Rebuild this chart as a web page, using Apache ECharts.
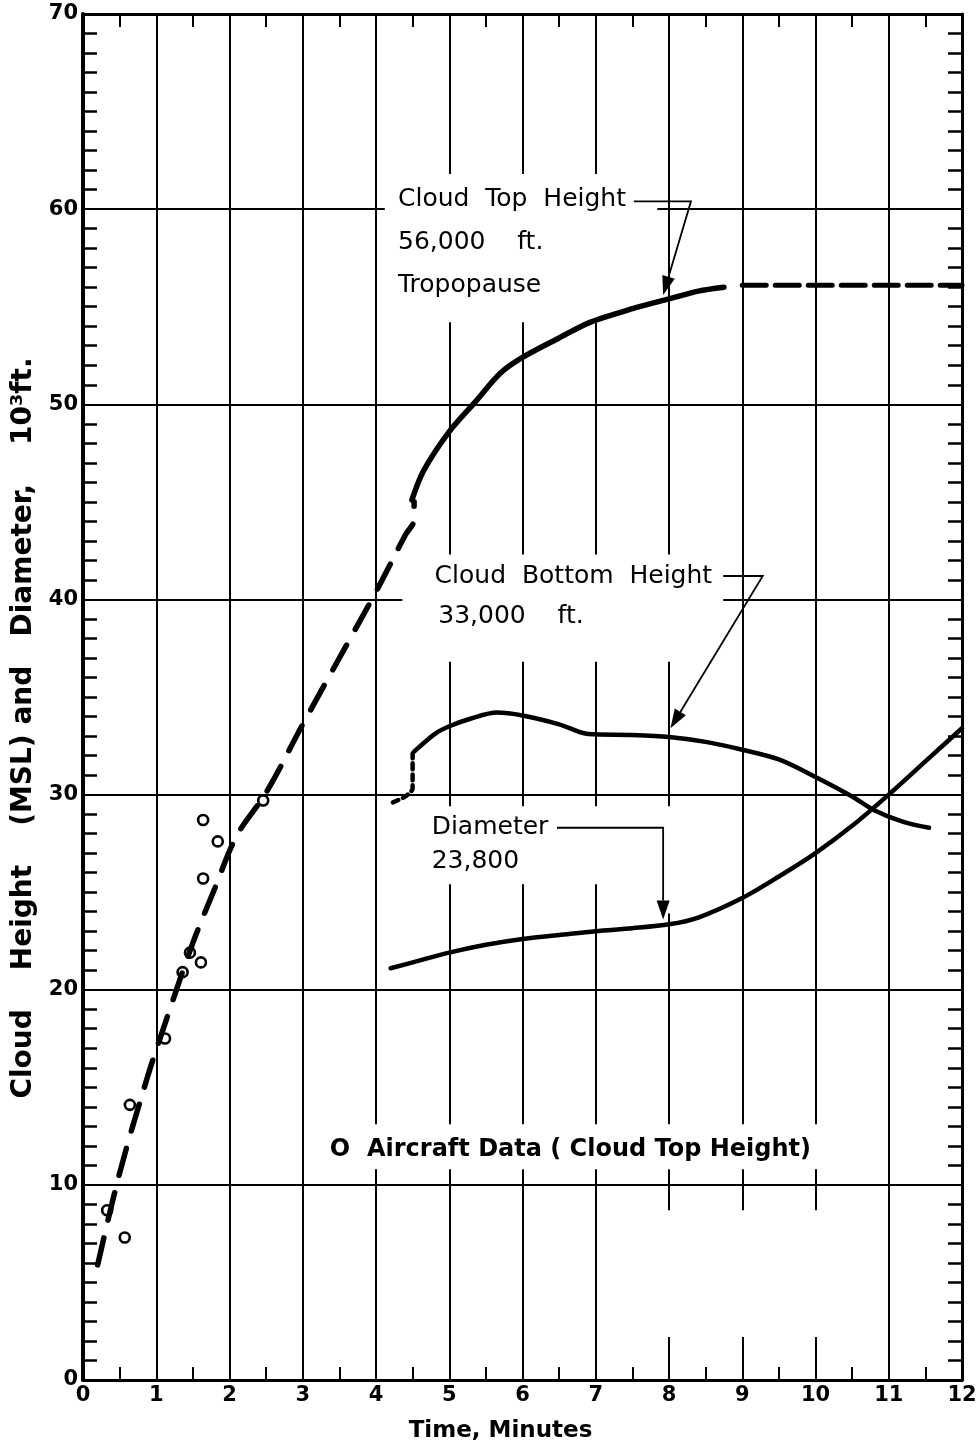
<!DOCTYPE html>
<html>
<head>
<meta charset="utf-8">
<script src="https://cdn.jsdelivr.net/npm/echarts@6/dist/echarts.min.js"></script>
<style>
html, body { margin: 0; padding: 0; background: #fff; }
#main { width: 978px; height: 1450px; }
</style>
</head>
<body>
<div id="main"></div>
<script>
// time in minutes, height in thousands of feet
var xTicks = [0, 1, 2, 3, 4, 5, 6, 7, 8, 9, 10, 11, 12];
var yTicks = [0, 10, 20, 30, 40, 50, 60, 70];

var topRiseDashed = [[0.2, 5.9], [0.5, 10.6], [0.87, 15.4], [1.15, 18.6], [1.5, 22.4], [1.8, 25.2],
    [2.1, 27.9], [2.5, 30.1], [3, 33.6], [3.5, 37.0], [4, 40.4], [4.4, 43.3], [4.52, 44.1], [4.52, 45.0]];
var topHeight = [[4.49, 45.1], [4.65, 46.6], [5, 48.6], [5.35, 50.1], [5.7, 51.6], [6, 52.4], [6.5, 53.4],
    [6.92, 54.2], [7.5, 54.9], [8, 55.4], [8.4, 55.8], [8.75, 56.0]];
var topTropopause = [[9, 56.1], [12, 56.1]];
var bottomDotted = [[4.23, 29.6], [4.4, 29.9], [4.5, 30.3], [4.5, 32.1]];
var bottomHeight = [[4.52, 32.2], [4.8, 33.1], [5, 33.5], [5.3, 33.9], [5.65, 34.2], [6, 34.05], [6.5, 33.6],
    [6.9, 33.1], [7.5, 33.05], [8, 32.95], [8.5, 32.7], [9, 32.3], [9.5, 31.8], [10, 30.9], [10.5, 29.9],
    [10.8, 29.2], [11.2, 28.6], [11.55, 28.3]];
var diameter = [[4.2, 21.1], [4.6, 21.5], [5, 21.9], [5.5, 22.3], [6, 22.6], [6.5, 22.8], [7, 23.0],
    [7.5, 23.15], [8, 23.35], [8.4, 23.7], [9, 24.7], [9.5, 25.8], [10, 27.0], [10.5, 28.4], [11, 30.0],
    [11.5, 31.7], [12, 33.4]];
var aircraft = [[0.33, 8.7], [0.57, 7.3], [0.64, 14.1], [1.12, 17.5], [1.36, 20.9], [1.46, 21.9],
    [1.61, 21.4], [1.64, 25.7], [1.64, 28.7], [1.84, 27.6], [2.46, 29.7]];

// notes placed in data units: [x, y, text, bold]
var notes = [
    [4.3, 60.5, 'Cloud  Top  Height', false],
    [4.3, 58.3, '56,000    ft.', false],
    [4.3, 56.1, 'Tropopause', false],
    [4.8, 41.2, 'Cloud  Bottom  Height', false],
    [4.85, 39.1, '33,000    ft.', false],
    [4.76, 28.3, 'Diameter', false],
    [4.76, 26.55, '23,800', false],
    [3.37, 11.8, 'O  Aircraft Data ( Cloud Top Height)', true]
];
var leaders = [
    [[7.52, 60.4], [8.3, 60.4], [7.92, 55.6]],
    [[8.74, 41.2], [9.28, 41.2], [8.02, 33.4]],
    [[6.47, 28.3], [7.92, 28.3], [7.92, 23.6]]
];
// white patches where the ruled grid is broken
var gaps = [
    [4.12, 54.2, 7.84, 61.8],
    [4.36, 36.8, 8.74, 42.3],
    [4.6, 25.4, 7.85, 29.4],
    [7.85, 23.9, 8.1, 29.4],
    [3.24, 10.8, 10.06, 13.1],
    [7.9, 2.2, 10.1, 8.7]
];

var FONT = 'DejaVu Sans';
var chart = echarts.init(document.getElementById('main'));

function ruledX(pos, showLabel) {
    return {
        type: 'value', position: pos, min: 0, max: 12, interval: 1,
        axisLine: { show: true, onZero: false, lineStyle: { color: '#000', width: 3 } },
        axisTick: { show: true, inside: true, length: 12, lineStyle: { color: '#000', width: 2 } },
        minorTick: { show: true, splitNumber: 2, length: 13, lineStyle: { color: '#000', width: 2 } },
        splitLine: { show: showLabel, lineStyle: { color: '#000', width: 2 } },
        axisLabel: {
            show: showLabel, color: '#000', fontFamily: FONT, fontWeight: 'bold', fontSize: 21, margin: 5,
            formatter: function (v) { return xTicks.indexOf(v) >= 0 ? String(v) : ''; }
        }
    };
}
function ruledY(pos, showLabel) {
    return {
        type: 'value', position: pos, min: 0, max: 70, interval: 10,
        axisLine: { show: true, onZero: false, lineStyle: { color: '#000', width: pos == 'left' ? 4 : 3 } },
        axisTick: { show: true, inside: true, length: 14, lineStyle: { color: '#000', width: 2 } },
        minorTick: { show: true, splitNumber: 10, length: 14, lineStyle: { color: '#000', width: 2.5 } },
        splitLine: { show: showLabel, lineStyle: { color: '#000', width: 2 } },
        axisLabel: {
            show: showLabel, color: '#000', fontFamily: FONT, fontWeight: 'bold', fontSize: 21, margin: 5,
            formatter: function (v) { return yTicks.indexOf(v) >= 0 ? String(v) : ''; }
        }
    };
}

var xBottom = ruledX('bottom', true);
xBottom.name = 'Time, Minutes';
xBottom.nameLocation = 'middle';
xBottom.nameGap = 40;
xBottom.nameTextStyle = { color: '#000', fontFamily: FONT, fontWeight: 'bold', fontSize: 23, padding: [0, 44, 0, 0] };
var yLeft = ruledY('left', true);
yLeft.name = 'Cloud    Height    (MSL) and   Diameter,    10\u00B3ft.';
yLeft.nameLocation = 'middle';
yLeft.nameGap = 38;
yLeft.nameTextStyle = { color: '#000', fontFamily: FONT, fontWeight: 'bold', fontSize: 28, padding: [0, 62, 0, 0] };

function curve(data, width, dash, smooth) {
    return {
        type: 'line', data: data, showSymbol: false, smooth: smooth, silent: true, z: 3,
        lineStyle: { color: '#000', width: width, type: dash, cap: 'round' }
    };
}

option = {
    animation: false,
    backgroundColor: '#fff',
    grid: { left: 83, right: 16, top: 14, bottom: 70, containLabel: false, outerBoundsMode: 'none' },
    xAxis: [xBottom, ruledX('top', false)],
    yAxis: [yLeft, ruledY('right', false)],
    series: [
        curve(topRiseDashed, 5.5, [28, 18], 0.35),
        curve(topHeight, 5.5, 'solid', 0.3),
        curve(topTropopause, 5, [24, 9], false),
        curve(bottomDotted, 4.5, [6, 5], 0.2),
        curve(bottomHeight, 4.5, 'solid', 0.3),
        curve(diameter, 4.5, 'solid', 0.3),
        {
            type: 'scatter', data: aircraft, symbol: 'circle', symbolSize: 10, silent: true, z: 4,
            itemStyle: { color: 'rgba(0,0,0,0)', borderColor: '#000', borderWidth: 2.6, opacity: 1 }
        }
    ]
};
chart.setOption(option);

function toPx(p) { return chart.convertToPixel({ seriesIndex: 0 }, p); }
var els = [];
gaps.forEach(function (b) {
    var a = toPx([b[0], b[1]]), c = toPx([b[2], b[3]]);
    els.push({
        type: 'rect', z: 1, silent: true,
        shape: { x: Math.min(a[0], c[0]), y: Math.min(a[1], c[1]), width: Math.abs(c[0] - a[0]), height: Math.abs(c[1] - a[1]) },
        style: { fill: '#fff' }
    });
});
leaders.forEach(function (path) {
    var pts = path.map(toPx);
    var p0 = pts[pts.length - 2], p1 = pts[pts.length - 1];
    var dx = p1[0] - p0[0], dy = p1[1] - p0[1], d = Math.sqrt(dx * dx + dy * dy);
    dx /= d; dy /= d;
    var len = 19, wid = 13;
    var bx = p1[0] - dx * len, by = p1[1] - dy * len;
    var line = pts.slice(0, -1).concat([[bx, by]]);
    els.push({ type: 'polyline', z: 10, silent: true, shape: { points: line }, style: { stroke: '#000', lineWidth: 1.8, fill: null } });
    els.push({
        type: 'polygon', z: 10, silent: true,
        shape: { points: [p1, [bx - dy * wid / 2, by + dx * wid / 2], [bx + dy * wid / 2, by - dx * wid / 2]] },
        style: { fill: '#000' }
    });
});
notes.forEach(function (n) {
    var p = toPx([n[0], n[1]]);
    els.push({
        type: 'text', z: 10, silent: true, x: p[0], y: p[1],
        style: {
            text: n[2], fill: '#000', fontFamily: FONT, fontSize: n[3] ? 24 : 25,
            fontWeight: n[3] ? 'bold' : 'normal', align: 'left', verticalAlign: 'middle'
        }
    });
});
chart.setOption({ graphic: { elements: els } });
</script>
</body>
</html>
